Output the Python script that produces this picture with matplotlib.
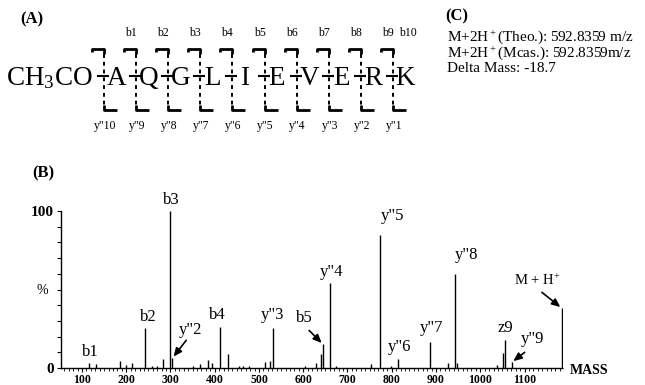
import matplotlib
matplotlib.use("Agg")
import matplotlib.pyplot as plt
from matplotlib.ticker import MultipleLocator

plt.rcParams['font.family'] = ['Liberation Serif', 'DejaVu Serif']
plt.rcParams['mathtext.fontset'] = 'custom'
plt.rcParams['mathtext.rm'] = 'Liberation Serif'
plt.rcParams['mathtext.it'] = 'Liberation Serif:italic'
plt.rcParams['mathtext.bf'] = 'Liberation Serif:bold'

# (A) peptide sequence and fragment names
n_term = 'CH$_3$CO'
residues = ['A', 'Q', 'G', 'L', 'I', 'E', 'V', 'E', 'R', 'K']
b_ions = ['b1', 'b2', 'b3', 'b4', 'b5', 'b6', 'b7', 'b8', 'b9', 'b10']
y_ions = ['y"10', 'y"9', 'y"8', 'y"7', 'y"6', 'y"5', 'y"4', 'y"3', 'y"2', 'y"1']

# (C) mass info
info_lines = ['M+2H$^+$(Theo.): 592.8359 m/z',
              'M+2H$^+$(Mcas.): 592.8359m/z',
              'Delta Mass: -18.7']

# (B) MS/MS spectrum
mz = [116.6, 131, 187, 199, 214, 242.5, 257.5, 269, 282, 299.1, 304, 351,
      367, 384, 393, 412.5, 431, 454, 465, 478, 513.5, 525, 531, 604, 628,
      641, 645, 659.5, 675, 754, 773.4, 798, 815, 886, 926, 943.5, 947,
      1037, 1052, 1056, 1071, 1184.6]
intensity = [3.4, 2.5, 4.3, 2, 3.4, 25.3, 1.5, 1.5, 5.7, 100, 6.2, 1.5,
             2.5, 5, 3, 26, 9, 1.5, 1.5, 1.5, 4, 4.5, 25.3, 1.5, 3.4,
             9, 15, 54, 1.5, 2.5, 85, 1.5, 6, 16.8, 3.4, 60, 3,
             2, 9.3, 17.8, 3.6, 38]

peak_names = ['b1', 'b2', 'b3', 'b4', 'y"3', 'y"4', 'y"5', 'y"6', 'y"7', 'y"8', 'z9']
peak_mz = [116.6, 242.5, 299.1, 412.5, 531, 659.5, 773.4, 815, 886, 943.5, 1056]
# label offsets from peak top, pixels (right, up)
peak_off = [(1, 11), (3, 11), (1, 11), (-3, 12), (0, 13), (2, 11), (13, 19),
            (1, 12), (2, 14), (11, 19), (0, 12)]

arrow_names = ['y"2', 'b5', 'y"9', 'M + H$^{+}$']
arrow_mz = [304, 645, 1071, 1184.6]
# text offset, arrow tail offset, pixels
arrow_text_off = [(18, 28), (-19, 26), (21, 23), (-25, 28)]
arrow_tail_off = [(14, 18), (-14, 14), (13, 10), (-20, 16)]

fig = plt.figure(figsize=(6.45, 3.85), dpi=100)

# ---- overlay in pixel coordinates for panels A and C
ov = fig.add_axes([0, 0, 1, 1])
ov.set_xlim(0, 645)
ov.set_ylim(385, 0)
ov.axis('off')

ov.text(32, 19, '(A)', fontsize=12, fontweight='bold', ha='center', va='center')
ov.text(93, 85, n_term, fontsize=19.5, ha='right', va='baseline')

pitch = 32.1
v0 = 104
for i, res in enumerate(residues):
    v = v0 + i * pitch
    ov.text(v + 12.5, 85, res, fontsize=19.5, ha='center', va='baseline')
    # bond and cleavage bracket
    ov.plot([v - 6, v + 4], [76, 76], color='k', lw=1.5)
    ov.plot([v - 12, v - 12, v, v, v], [52, 49, 49, 49, 54], color='k', lw=2,
            solid_capstyle='butt')
    ov.plot([v, v], [54, 105], color='k', lw=1.4, linestyle=(0, (2, 2)))
    ov.plot([v, v, v + 13], [105, 110, 110], color='k', lw=2,
            solid_capstyle='butt')
    ov.text(v + 1, 126, y_ions[i], fontsize=8.5, ha='center', va='center')
    if i > 0:
        ov.text(v - 5, 33, b_ions[i - 1], fontsize=8.5, ha='center', va='center')
ov.text(v0 + 9 * pitch + 15, 33, b_ions[-1], fontsize=8.5, ha='center', va='center')

ov.text(457, 16, '(C)', fontsize=12, fontweight='bold', ha='center', va='center')
for k, line in enumerate(info_lines):
    ov.text(447, 37 + 16 * k, line, fontsize=11, ha='left', va='center')

ov.text(43, 173, '(B)', fontsize=12, fontweight='bold', ha='center', va='center')
ov.text(42, 290, '%', fontsize=10, ha='center', va='center')
ov.text(570, 371, 'MASS', fontsize=10, fontweight='bold', ha='left', va='center')

# ---- panel B spectrum
ax = fig.add_axes([61 / 645, 17 / 385, 502 / 645, 157 / 385])
ax.patch.set_alpha(0)
ax.vlines(mz, 0, intensity, color='k', lw=1.0)
ax.set_xlim(52.6, 1187)
ax.set_ylim(0, 100)

for s in ['top', 'right']:
    ax.spines[s].set_visible(False)
ax.spines['left'].set_linewidth(1.0)
ax.spines['bottom'].set_linewidth(1.0)
ax.spines['bottom'].set_linestyle((0, (1, 1)))

ax.xaxis.set_major_locator(MultipleLocator(100))
ax.xaxis.set_minor_locator(MultipleLocator(10))
ax.set_xticks(range(100, 1101, 100))
ax.tick_params(axis='x', which='major', length=3, width=0.8, pad=1.5, labelsize=8.5)
ax.tick_params(axis='x', which='minor', length=2, width=0.6)
for t in ax.get_xticklabels():
    t.set_fontweight('bold')

ax.set_yticks([0, 50, 100])
ax.set_yticklabels(['0', '', '100'])
ax.yaxis.set_minor_locator(MultipleLocator(10))
ax.tick_params(axis='y', which='major', length=3, width=0.8, pad=2, labelsize=11)
ax.tick_params(axis='y', which='minor', length=3, width=0.8)
for t in ax.get_yticklabels():
    t.set_fontweight('bold')

pt = 72 / 100
for name, m, (dx, dy) in zip(peak_names, peak_mz, peak_off):
    h = intensity[mz.index(m)]
    ax.annotate(name, xy=(m, h), xytext=(dx * pt, dy * pt),
                textcoords='offset points', ha='center', va='center',
                fontsize=12, annotation_clip=False)

for name, m, (tx, ty), (ax_, ay) in zip(arrow_names, arrow_mz, arrow_text_off, arrow_tail_off):
    h = intensity[mz.index(m)]
    ax.annotate(name, xy=(m, h), xytext=(tx * pt, ty * pt),
                textcoords='offset points', ha='center', va='center',
                fontsize=12 if 'M' not in name else 10.5, annotation_clip=False)
    ax.annotate('', xy=(m, h), xytext=(ax_ * pt, ay * pt),
                textcoords='offset points', annotation_clip=False,
                arrowprops=dict(arrowstyle='-|>,head_length=0.5,head_width=0.22',
                                color='k', lw=1.2, shrinkA=0, shrinkB=1.5))

fig.savefig('out.png', dpi=100)
